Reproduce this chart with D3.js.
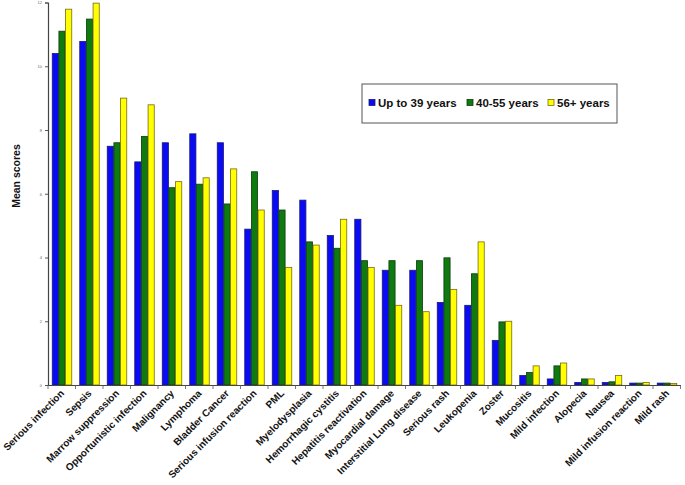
<!DOCTYPE html>
<html>
<head>
<meta charset="utf-8">
<script src="https://cdn.jsdelivr.net/npm/d3@7"></script>
<style>
  html, body { margin: 0; padding: 0; background: #fff; }
  svg { display: block; }
</style>
</head>
<body>
<svg id="chart" width="685" height="485"></svg>
<script>
const categories = ["Serious infection","Sepsis","Marrow suppression","Opportunistic infection","Malignancy","Lymphoma","Bladder Cancer","Serious infusion reaction","PML","Myelodysplasia","Hemorrhagic cystitis","Hepatitis reactivation","Myocardial damage","Interstitial Lung disease","Serious rash","Leukopenia","Zoster","Mucositis","Mild infection","Alopecia","Nausea","Mild infusion reaction","Mild rash"];
const seriesNames = ["Up to 39 years","40-55 years","56+ years"];
const upTo39 = [10.4,10.78,7.49,7.0,7.6,7.88,7.6,4.89,6.1,5.8,4.69,5.2,3.6,3.6,2.59,2.5,1.4,0.3,0.19,0.08,0.08,0.06,0.06];
const age40to55 = [11.1,11.48,7.6,7.8,6.19,6.3,5.68,6.69,5.49,4.49,4.29,3.9,3.9,3.9,3.99,3.49,1.98,0.39,0.6,0.19,0.1,0.06,0.06];
const age56plus = [11.79,11.98,9.0,8.79,6.38,6.5,6.78,5.49,3.69,4.39,5.2,3.69,2.5,2.3,3.0,4.49,2.0,0.6,0.69,0.19,0.3,0.08,0.05];
const yTicks = [0,2,4,6,8,10,12];
const fills = ["#0a0af5","#0f7a0f","#ffff00"];
const strokes = ["#1a1a70","#0b3d0b","#7a6a10"];

const values = [upTo39, age40to55, age56plus];
const svg = d3.select("#chart");

const x0 = d3.scaleBand().domain(categories).range([48, 680.5]).paddingInner(0).paddingOuter(0);
const x1 = d3.scaleBand().domain(d3.range(seriesNames.length)).range([3.75, x0.bandwidth() - 3.75]);
const y = d3.scaleLinear().domain([0, 12]).range([385, 2.5]);

// bars
const groups = svg.append("g").selectAll("g").data(categories).join("g")
  .attr("transform", d => `translate(${x0(d)},0)`);
groups.selectAll("rect").data((d, i) => values.map((s, k) => ({k, v: s[i]}))).join("rect")
  .attr("x", d => x1(d.k) + 0.5)
  .attr("width", x1.bandwidth() - 0.5)
  .attr("y", d => y(d.v))
  .attr("height", d => y(0) - y(d.v))
  .attr("fill", d => fills[d.k])
  .attr("stroke", d => strokes[d.k])
  .attr("stroke-width", 0.8);

// y axis
const yAxis = svg.append("g").attr("transform", "translate(48,0)")
  .call(d3.axisLeft(y).tickValues(yTicks).tickSize(3).tickPadding(3));
yAxis.select(".domain").attr("stroke", "#444").attr("stroke-width", 1.2);
yAxis.selectAll(".tick line").attr("stroke", "#555");
yAxis.selectAll(".tick text").attr("font-size", 4).attr("fill", "#666").attr("font-family", "Arial, Liberation Sans, sans-serif");

// x axis
const xAxis = svg.append("g").attr("transform", "translate(0,385)")
  .call(d3.axisBottom(x0).tickSize(0).tickFormat(""));
xAxis.select(".domain").attr("stroke", "#444").attr("stroke-width", 1.2);
xAxis.selectAll(".tick").remove();
const boundaries = categories.map(c => x0(c)).concat([x0(categories[categories.length-1]) + x0.bandwidth()]);
svg.append("g").selectAll("line").data(boundaries).join("line")
  .attr("x1", d => d).attr("x2", d => d)
  .attr("y1", 385).attr("y2", 389)
  .attr("stroke", "#555").attr("stroke-width", 0.8);

// category labels
svg.append("g").selectAll("text").data(categories).join("text")
  .attr("transform", d => `translate(${x0(d) + x0.bandwidth()/2 + 3},${394}) rotate(-45)`)
  .attr("text-anchor", "end")
  .attr("font-family", "Arial, Liberation Sans, sans-serif")
  .attr("font-weight", "bold")
  .attr("font-size", 10)
  .attr("fill", "#111")
  .text(d => d);

// y title
svg.append("text")
  .attr("transform", "translate(20,176) rotate(-90)")
  .attr("text-anchor", "middle")
  .attr("font-family", "Arial, Liberation Sans, sans-serif")
  .attr("font-weight", "bold")
  .attr("font-size", 10.5)
  .attr("fill", "#111")
  .text("Mean scores");

// legend
const legend = svg.append("g");
legend.append("rect").attr("x", 362).attr("y", 84).attr("width", 255).attr("height", 39)
  .attr("fill", "#fff").attr("stroke", "#555").attr("stroke-width", 1);
const legendX = [369, 467, 548];
const li = legend.selectAll("g.item").data(seriesNames).join("g").attr("class", "item")
  .attr("transform", (d, i) => `translate(${legendX[i]},103)`);
li.append("rect").attr("x", 0).attr("y", -3.5).attr("width", 6).attr("height", 6)
  .attr("fill", (d, i) => fills[i]).attr("stroke", (d, i) => strokes[i]).attr("stroke-width", 0.8);
li.append("text").attr("x", 9).attr("y", 4)
  .attr("font-family", "Arial, Liberation Sans, sans-serif")
  .attr("font-weight", "bold").attr("font-size", 11.5).attr("fill", "#111")
  .text(d => d);
</script>
</body>
</html>
